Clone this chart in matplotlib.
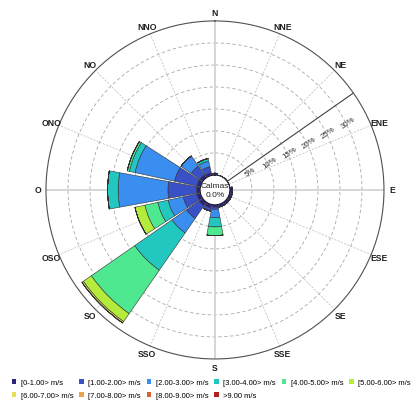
import numpy as np
import matplotlib
matplotlib.use("Agg")
from matplotlib import pyplot as plt
from matplotlib.patches import Patch

plt.rcParams['font.family'] = ['Liberation Sans', 'DejaVu Sans']

# wind directions (Spanish compass names), clockwise from north
directions = ['N', 'NNE', 'NE', 'ENE', 'E', 'ESE', 'SE', 'SSE',
              'S', 'SSO', 'SO', 'OSO', 'O', 'ONO', 'NO', 'NNO']

# frequency (%) per speed class and direction
s0_1 = [0.4, 0, 0, 0, 0.5, 0.6, 0.6, 0.6, 0.5, 0.8, 1.0, 0.8, 0.8, 0.8, 0.8, 0.6]
s1_2 = [0, 0, 0, 0, 0, 0, 0, 0, 0.5, 0.7, 3.5, 3.2, 6.5, 5.2, 2.4, 1.4]
s2_3 = [0, 0, 0, 0, 0, 0, 0, 0, 1.9, 0, 4.0, 3.5, 11.3, 9.2, 2.8, 1.3]
s3_4 = [0, 0, 0, 0, 0, 0, 0, 0, 2.1, 0, 10.3, 2.4, 2.4, 1.3, 0, 0.6]
s4_5 = [0, 0, 0, 0, 0, 0, 0, 0, 2.0, 0, 12.0, 3.0, 0, 0.5, 0, 0]
s5_6 = [0, 0, 0, 0, 0, 0, 0, 0, 0, 0, 2.2, 2.3, 0, 0, 0, 0]
s6_7 = [0, 0, 0, 0, 0, 0, 0, 0, 0, 0, 0.4, 0, 0, 0, 0, 0]
s7_8 = [0] * 16
s8_9 = [0] * 16
s9_up = [0] * 16

speed_labels = ['[0-1.00> m/s', '[1.00-2.00> m/s', '[2.00-3.00> m/s', '[3.00-4.00> m/s',
                '[4.00-5.00> m/s', '[5.00-6.00> m/s', '[6.00-7.00> m/s', '[7.00-8.00> m/s',
                '[8.00-9.00> m/s', '>9.00 m/s']
speed_colors = ['#2a2380', '#3a50c6', '#3a8ef0', '#22c8c0', '#4ee890',
                '#b4ec3c', '#e6df5a', '#eea34a', '#d8632e', '#b02222']

ring_values = [5, 10, 15, 20, 25, 30]
calms = 0.0

bins = [s0_1, s1_2, s2_3, s3_4, s4_5, s5_6, s6_7, s7_8, s8_9, s9_up]

fig = plt.figure(figsize=(4.18, 4.02), dpi=100)
ax = fig.add_axes([0.110, 0.1045, 0.8086, 0.841], projection='polar')
ax.set_theta_zero_location('N')
ax.set_theta_direction(-1)
ax.set_rorigin(-3.4)
ax.set_ylim(0, 35)
ax.grid(False)
ax.set_xticks([])
ax.set_yticks([])
ax.spines['polar'].set_color('#505050')
ax.spines['polar'].set_linewidth(0.8)

theta = np.deg2rad(np.arange(16) * 22.5)
full = np.linspace(0, 2 * np.pi, 400)

# grid circles
for rv in ring_values:
    ax.plot(full, np.full_like(full, rv), ls=(0, (4, 3)), color='#a8a8a8', lw=0.6, zorder=1)
# radial lines
for i, t in enumerate(theta):
    if i % 4 == 0:
        ax.plot([t, t], [0, 35], color='#d0d0d0', lw=1.2, zorder=1)
    else:
        ax.plot([t, t], [0, 35], ls=(0, (3, 2)), color='#b8b8b8', lw=0.5, zorder=1)

# stacked bars
bottom = np.zeros(16)
for vals, col in zip(bins, speed_colors):
    vals = np.array(vals, dtype=float)
    ax.bar(theta, vals, width=np.deg2rad(20.5), bottom=bottom, color=col,
           edgecolor='#303030', linewidth=0.4, zorder=3)
    bottom += vals

# scale line and labels
ang = np.deg2rad(55)
ax.plot([ang, ang], [0, 35], color='#404040', lw=0.8, zorder=2)
for rv in ring_values:
    ax.text(np.deg2rad(63), rv + 0.6, f'{rv}%', fontsize=5.7, rotation=35,
            ha='center', va='center', color='#303030', zorder=4)

# direction labels
for t, name in zip(theta, directions):
    ax.text(t, 36.9, name, fontsize=6.2, fontweight='bold', ha='center', va='center',
            color='#202020', clip_on=False)

ax.text(0, -3.4, f'Calmas\n{calms:.1f}%', fontsize=6, ha='center', va='center',
        color='#202020', linespacing=1.5, zorder=5)

# legend, row-major order
handles = [Patch(facecolor=c, edgecolor='none', label=l) for c, l in zip(speed_colors, speed_labels)]
order = [0, 6, 1, 7, 2, 8, 3, 9, 4, 5]
fig.legend([handles[i] for i in order], [speed_labels[i] for i in order],
           loc='lower left', bbox_to_anchor=(0.015, -0.008), ncol=6, fontsize=5.5,
           frameon=False, handlelength=0.6, handleheight=0.6, handletextpad=0.6,
           columnspacing=0.75, labelspacing=0.75, borderaxespad=0.3)

fig.savefig('out.png', dpi=100)
